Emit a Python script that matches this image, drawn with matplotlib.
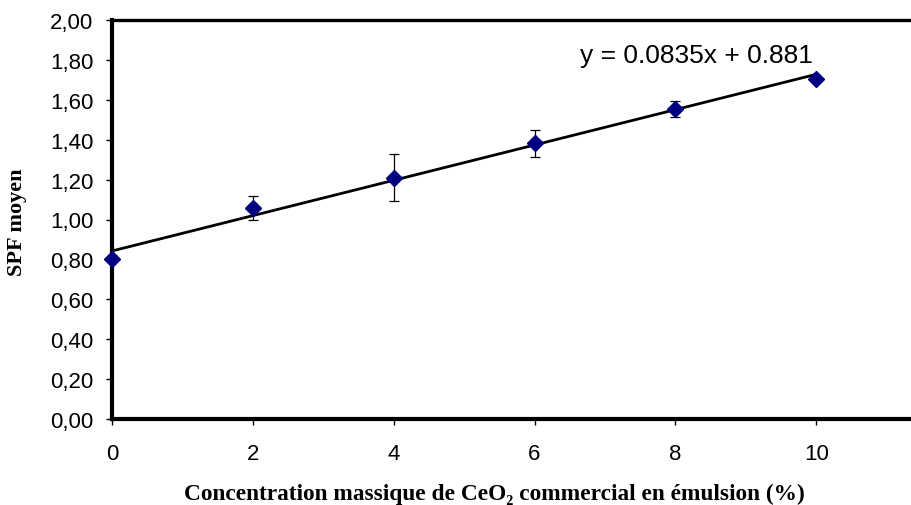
import numpy as np
import matplotlib
matplotlib.use("Agg")
import matplotlib.pyplot as plt

# données
conc = [0, 2, 4, 6, 8, 10]
spf = [0.80, 1.056, 1.21, 1.383, 1.556, 1.705]
spf_err = [0.01, 0.06, 0.118, 0.068, 0.04, 0.01]
y_ticks = [0.0, 0.2, 0.4, 0.6, 0.8, 1.0, 1.2, 1.4, 1.6, 1.8, 2.0]
x_ticks = [0, 2, 4, 6, 8, 10]
equation = "y = 0.0835x + 0.881"

plt.rcParams['font.family'] = ['Liberation Sans', 'DejaVu Sans']

fig = plt.figure(figsize=(9.12, 5.06), dpi=100)
ax = fig.add_axes([112/912, 1-420/506, 1-112/912, (420-21)/506])

# droite de tendance
a, b = np.polyfit(conc, spf, 1)
xs = np.array([0, 10])
ax.plot(xs, a*xs + b, color='black', lw=2.0, zorder=2)

ax.errorbar(conc, spf, yerr=spf_err, fmt='D', color='#000080', ms=8.6,
            ecolor='black', elinewidth=0.9, capsize=3.6, capthick=0.9,
            clip_on=False, zorder=3)

ax.text(6.65, 1.79, equation, fontsize=19, color='black')

ax.set_xlim(0, 11.36)
ax.set_ylim(0, 2.0)
ax.set_xticks(x_ticks)
ax.set_xticklabels([str(v) for v in x_ticks])
ax.set_yticks(y_ticks)
ax.set_yticklabels([f"{v:.2f}".replace('.', ',') for v in y_ticks])

ax.spines['right'].set_visible(False)
ax.spines['left'].set_linewidth(3)
ax.spines['bottom'].set_linewidth(3)
ax.spines['top'].set_linewidth(2.4)
ax.tick_params(axis='y', direction='out', length=4.5, width=1, pad=9, labelsize=16)
ax.tick_params(axis='x', direction='out', length=4.5, width=1, pad=13, labelsize=16)

serif = ['Liberation Serif', 'DejaVu Serif']
fig.text(494/912, 1-494/506, "Concentration massique de CeO₂ commercial en émulsion (%)",
         ha='center', va='center', fontsize=16.8, fontweight='bold', family=serif)
fig.text(17/912, 1-222/506, "SPF moyen", rotation=90, ha='center', va='center',
         fontsize=16, fontweight='bold', family=serif)

fig.savefig("out.png", dpi=100)
